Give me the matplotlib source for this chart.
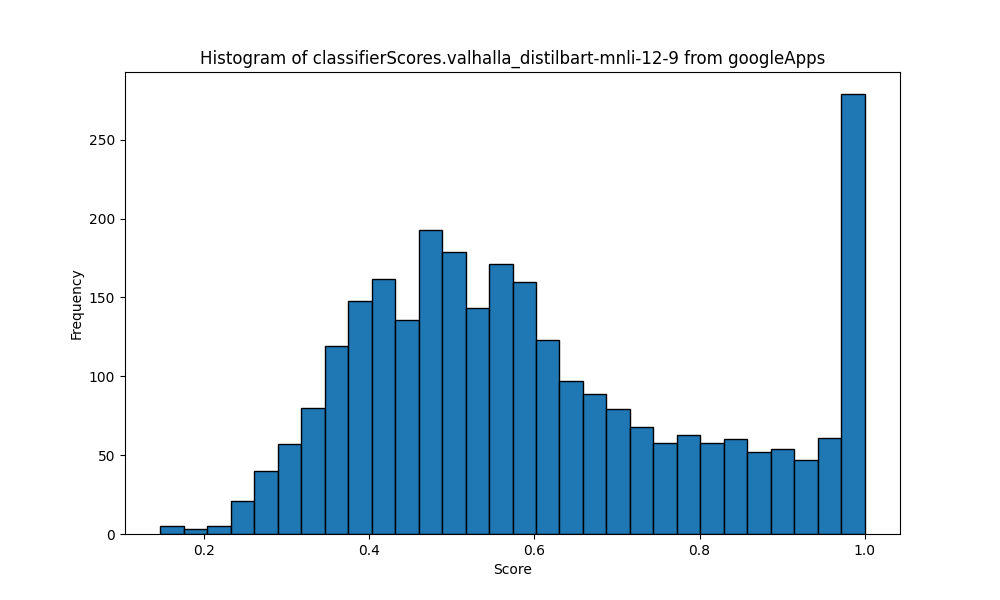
import numpy as np
import matplotlib
matplotlib.use("Agg")
import matplotlib.pyplot as plt

score_min = 0.147
score_max = 1.0
counts = [5, 3, 5, 21, 40, 57, 80, 119, 148, 162, 136, 193, 179, 143, 171,
          160, 123, 97, 89, 79, 68, 58, 63, 58, 60, 52, 54, 47, 61, 279]

edges = np.linspace(score_min, score_max, len(counts) + 1)
centers = (edges[:-1] + edges[1:]) / 2

fig, ax = plt.subplots(figsize=(10, 6), dpi=100)
ax.hist(centers, bins=edges, weights=counts, color="#1f77b4", edgecolor="black")
ax.set_title("Histogram of classifierScores.valhalla_distilbart-mnli-12-9 from googleApps")
ax.set_xlabel("Score")
ax.set_ylabel("Frequency")
fig.savefig("out.png")
